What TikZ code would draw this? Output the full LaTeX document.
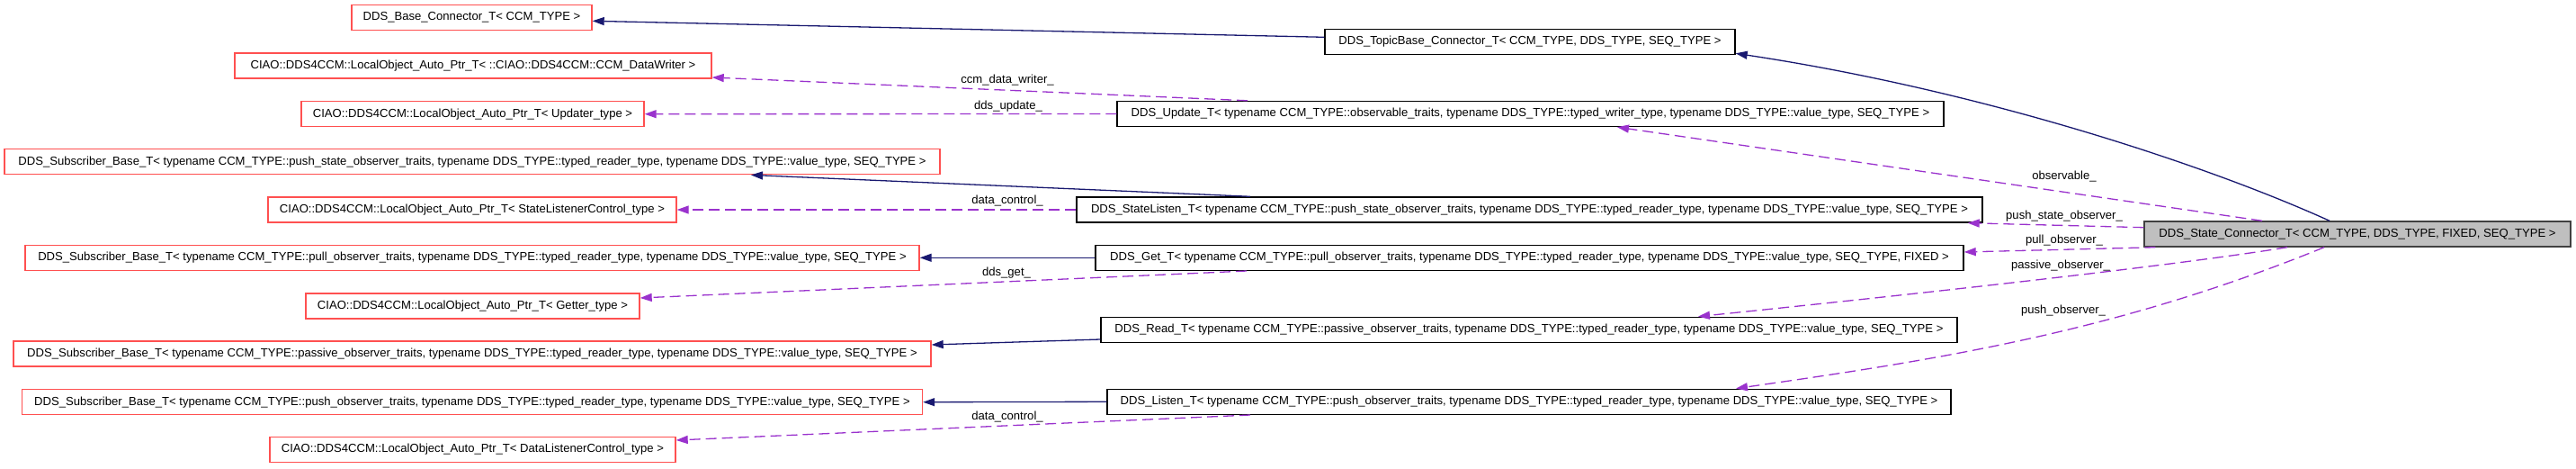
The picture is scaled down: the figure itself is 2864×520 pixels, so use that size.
\documentclass[tikz,border=0pt]{standalone}
\usepackage{fontspec}
\setmainfont{Liberation Sans}
\usetikzlibrary{arrows.meta}
\definecolor{redb}{RGB}{255,80,80}
\definecolor{inhc}{RGB}{25,25,112}
\definecolor{usec}{RGB}{154,50,205}
\definecolor{grayf}{RGB}{191,191,191}
\begin{document}
\begin{tikzpicture}[x=1pt,y=-1pt,
  every node/.style={font=\fontsize{13.1}{15}\selectfont},
  box/.style={draw, line width=1.4pt, inner sep=0pt, minimum height=28pt, anchor=center},
  rbox/.style={box, draw=redb},
  bbox/.style={box, draw=black},
  sbox/.style={box, draw=black!75, fill=grayf},
  inh/.style={draw=inhc, line width=1.3pt, -{Triangle[length=13pt,width=9pt]}},
  usee/.style={draw=usec, line width=1.3pt, dash pattern=on 12pt off 6pt, -{Triangle[length=13pt,width=9pt]}},
  lbl/.style={inner sep=0pt, anchor=center}]
\useasboundingbox (0,0) rectangle (2864,520);
% left column
\node[rbox, minimum width=267pt] (base) at (524.5,19.7) {DDS\_Base\_Connector\_T< CCM\_TYPE >};
\node[rbox, minimum width=530pt] (dw) at (526,73) {CIAO::DDS4CCM::LocalObject\_Auto\_Ptr\_T< ::CIAO::DDS4CCM::CCM\_DataWriter >};
\node[rbox, minimum width=381pt] (upd) at (525.5,126.7) {CIAO::DDS4CCM::LocalObject\_Auto\_Ptr\_T< Updater\_type >};
\node[rbox, minimum width=1040pt] (subps) at (525,179.7) {DDS\_Subscriber\_Base\_T< typename CCM\_TYPE::push\_state\_observer\_traits, typename DDS\_TYPE::typed\_reader\_type, typename DDS\_TYPE::value\_type, SEQ\_TYPE >};
\node[rbox, minimum width=454pt] (slc) at (525,233) {CIAO::DDS4CCM::LocalObject\_Auto\_Ptr\_T< StateListenerControl\_type >};
\node[rbox, minimum width=994pt] (subpl) at (525,286.3) {DDS\_Subscriber\_Base\_T< typename CCM\_TYPE::pull\_observer\_traits, typename DDS\_TYPE::typed\_reader\_type, typename DDS\_TYPE::value\_type, SEQ\_TYPE >};
\node[rbox, minimum width=371pt] (get) at (525.5,340) {CIAO::DDS4CCM::LocalObject\_Auto\_Ptr\_T< Getter\_type >};
\node[rbox, minimum width=1020pt] (subpa) at (525,393) {DDS\_Subscriber\_Base\_T< typename CCM\_TYPE::passive\_observer\_traits, typename DDS\_TYPE::typed\_reader\_type, typename DDS\_TYPE::value\_type, SEQ\_TYPE >};
\node[rbox, minimum width=1001pt] (subpu) at (525,446.7) {DDS\_Subscriber\_Base\_T< typename CCM\_TYPE::push\_observer\_traits, typename DDS\_TYPE::typed\_reader\_type, typename DDS\_TYPE::value\_type, SEQ\_TYPE >};
\node[rbox, minimum width=451pt] (dlc) at (525.5,499.4) {CIAO::DDS4CCM::LocalObject\_Auto\_Ptr\_T< DataListenerControl\_type >};
% middle column
\node[bbox, minimum width=456pt] (topic) at (1701,46.5) {DDS\_TopicBase\_Connector\_T< CCM\_TYPE, DDS\_TYPE, SEQ\_TYPE >};
\node[bbox, minimum width=919pt] (update) at (1701.5,126.5) {DDS\_Update\_T< typename CCM\_TYPE::observable\_traits, typename DDS\_TYPE::typed\_writer\_type, typename DDS\_TYPE::value\_type, SEQ\_TYPE >};
\node[bbox, minimum width=1007pt] (slisten) at (1700.5,233) {DDS\_StateListen\_T< typename CCM\_TYPE::push\_state\_observer\_traits, typename DDS\_TYPE::typed\_reader\_type, typename DDS\_TYPE::value\_type, SEQ\_TYPE >};
\node[bbox, minimum width=965pt] (getT) at (1700.5,286.3) {DDS\_Get\_T< typename CCM\_TYPE::pull\_observer\_traits, typename DDS\_TYPE::typed\_reader\_type, typename DDS\_TYPE::value\_type, SEQ\_TYPE, FIXED >};
\node[bbox, minimum width=952pt] (read) at (1700,366.3) {DDS\_Read\_T< typename CCM\_TYPE::passive\_observer\_traits, typename DDS\_TYPE::typed\_reader\_type, typename DDS\_TYPE::value\_type, SEQ\_TYPE >};
\node[bbox, minimum width=938pt] (listen) at (1700,446.3) {DDS\_Listen\_T< typename CCM\_TYPE::push\_observer\_traits, typename DDS\_TYPE::typed\_reader\_type, typename DDS\_TYPE::value\_type, SEQ\_TYPE >};
% main class
\node[sbox, minimum width=474pt] (state) at (2621,260) {DDS\_State\_Connector\_T< CCM\_TYPE, DDS\_TYPE, FIXED, SEQ\_TYPE >};
% inheritance edges
\draw[inh] ([yshift=5.2pt]topic.west) -- ([yshift=-3.6pt]base.east);
\draw[inh] ([xshift=-31pt]state.north) .. controls (2450,182) and (2200,100) .. ([yshift=-12.8pt]topic.east);
\draw[inh] ([xshift=-310.5pt]slisten.north) -- ([xshift=310pt]subps.south);
\draw[inh] (getT.west) -- (subpl.east);
\draw[inh] ([yshift=-10.7pt]read.west) -- ([yshift=10pt]subpa.east);
\draw[inh] (listen.west) -- (subpu.east);
% usage edges
\draw[usee] ([xshift=-314.5pt]update.north) -- ([yshift=-13pt]dw.east);
\draw[usee] (update.west) -- (upd.east);
\draw[usee] (slisten.west) -- (slc.east);
\draw[usee] ([xshift=-314.5pt]getT.south) -- ([yshift=9pt]get.east);
\draw[usee] ([xshift=-310pt]listen.south) -- ([yshift=10.4pt]dlc.east);
\draw[usee] ([xshift=-106pt]state.north) -- ([xshift=96.5pt]update.south);
\draw[usee] ([yshift=7.3pt]state.west) -- ([xshift=-17pt]slisten.south east);
\draw[usee] ([xshift=13pt]state.south west) -- ([yshift=6.3pt]getT.east);
\draw[usee] ([xshift=-78pt]state.south) .. controls (2400,298) and (2050,335) .. ([xshift=188pt]read.north);
\draw[usee] ([xshift=-37pt]state.south) .. controls (2350,370) and (2150,400) .. ([xshift=230pt]listen.north);
% labels
\node[lbl] (l1) at (1120,89) {ccm\_data\_writer\_};
\node[lbl] (l2) at (1121,118) {dds\_update\_};
\node[lbl] (l3) at (1120,223) {data\_control\_};
\node[lbl] (l4) at (1119,303) {dds\_get\_};
\node[lbl] (l5) at (1120,462.7) {data\_control\_};
\node[lbl] (l6) at (2295,196) {observable\_};
\node[lbl] (l7) at (2295,240) {push\_state\_observer\_};
\node[lbl] (l8) at (2295,266.7) {pull\_observer\_};
\node[lbl] (l9) at (2291,295) {passive\_observer\_};
\node[lbl] (l10) at (2294,345) {push\_observer\_};
\end{tikzpicture}
\end{document}
